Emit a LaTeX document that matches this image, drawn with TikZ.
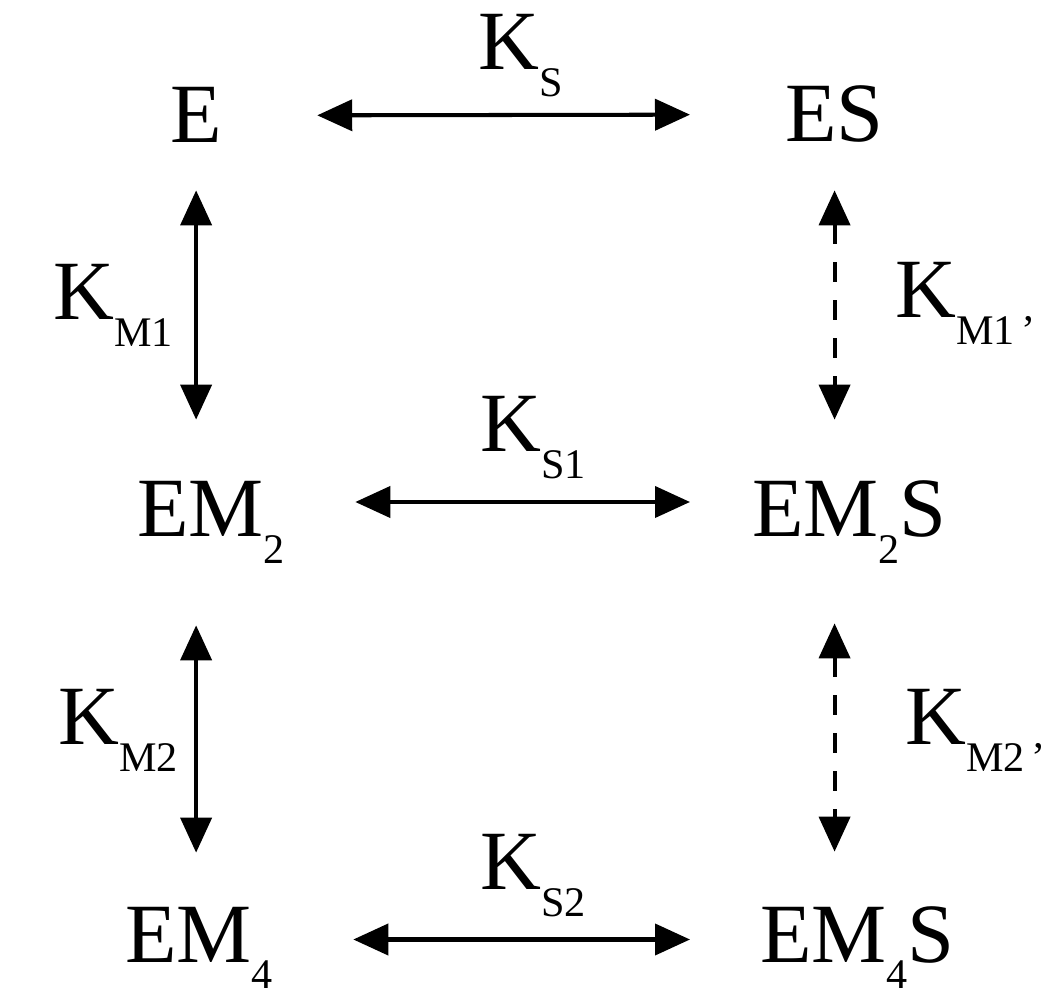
\documentclass[tikz,border=0pt]{standalone}
\usepackage{fontspec}
\setmainfont{Liberation Serif}
\usetikzlibrary{arrows.meta}
\newcommand{\subtxt}[1]{\raisebox{-0.54cm}{\fontsize{24}{26}\selectfont #1}}
\tikzset{
  species/.style={font=\fontsize{48}{50}\selectfont, inner sep=0pt, anchor=base west, text height=1.1cm, text depth=0pt},
  const/.style={font=\fontsize{48}{50}\selectfont, inner sep=0pt, anchor=base west},
  eq/.style={line width=2.3pt, {Triangle[length=0.7cm,width=0.62cm]}-{Triangle[length=0.7cm,width=0.62cm]}},
  eqdash/.style={eq, dash pattern=on 0.4cm off 0.36cm}
}
\begin{document}
\begin{tikzpicture}
        \useasboundingbox (0,0) rectangle (21,-20.04);
        % species
        \node[species] (E) at (3.4,-2.86) {E};
        \node[species] (ES) at (15.7,-2.84) {ES};
        \node[species] (EM2) at (2.74,-10.74) {EM\subtxt{2}};
        \node[species] (EM2S) at (15.04,-10.74) {EM\subtxt{2}S};
        \node[species] (EM4) at (2.5,-19.24) {EM\subtxt{4}};
        \node[species] (EM4S) at (15.2,-19.24) {EM\subtxt{4}S};
        % constants
        \node[const] (KS) at (9.56,-1.4) {K\subtxt{S}};
        \node[const] (KM1) at (1.06,-6.4) {K\subtxt{M1}};
        \node[const] (KM1p) at (17.9,-6.36) {K\subtxt{M1\,’}};
        \node[const] (KS1) at (9.6,-9.04) {K\subtxt{S1}};
        \node[const] (KM2) at (1.16,-14.9) {K\subtxt{M2}};
        \node[const] (KM2p) at (18.1,-14.9) {K\subtxt{M2\,’}};
        \node[const] (KS2) at (9.6,-17.8) {K\subtxt{S2}};
        % equilibria
        \draw[eq, shorten <=1.9cm, shorten >=1.9cm] (E.east) -- (ES.west);
        \draw[eq, shorten <=1.4cm, shorten >=1.24cm] ([yshift=0.15cm]EM2.east) -- ([yshift=0.15cm]EM2S.west);
        \draw[eq, shorten <=1.6cm, shorten >=1.4cm] ([yshift=-0.1cm]EM4.east) -- ([yshift=-0.1cm]EM4S.west);
        \draw[eq, shorten <=0.94cm, shorten >=1.24cm] (E.south) -- (E.south |- EM2.north);
        \draw[eq, shorten <=1.76cm, shorten >=1.08cm] (E.south |- EM2.south) -- (E.south |- EM4.north);
        \draw[eqdash, shorten <=0.96cm, shorten >=1.24cm] (ES.south) -- (ES.south |- EM2S.north);
        \draw[eqdash, shorten <=1.72cm, shorten >=1.1cm] (ES.south |- EM2S.south) -- (ES.south |- EM4S.north);
\end{tikzpicture}
\end{document}
